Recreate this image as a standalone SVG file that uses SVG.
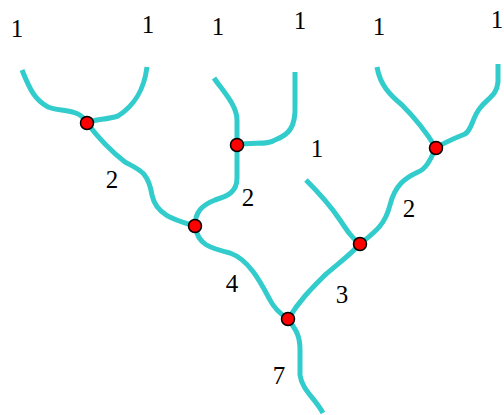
<svg xmlns="http://www.w3.org/2000/svg" width="504" height="415" viewBox="0 0 504 415">
<style>
.s{fill:none;stroke:#33cccc;stroke-width:5;stroke-linecap:butt;stroke-linejoin:round}
.n{fill:#ff0000;stroke:#000;stroke-width:1.5}
.t{font-family:"Liberation Serif","DejaVu Serif",serif;font-size:25px;fill:#000;text-anchor:middle}
</style>
<rect width="504" height="415" fill="#fff"/>
<g id="connectors">
<path class="s" d="M22,70 C30,90 35,100 48,107 C60,112 80,108 87,123"/>
<path class="s" d="M147,67 C144,90 135,105 118,116 C105,120 95,119 87,123"/>
<path class="s" d="M87,123 C100,140 112,152 125,162 C140,170 148,172 152,195 C156,215 175,220 195,226"/>
<path class="s" d="M214,78 C222,90 237,105 237,120 L237,145"/>
<path class="s" d="M295,72 L295,105 C296,128 288,135 275,140 C268,145 255,142 237,145"/>
<path class="s" d="M237,145 L237,178 C237,192 228,196 215,200 C202,205 195,212 195,226"/>
<path class="s" d="M195,226 C198,245 210,248 230,253 C250,260 262,285 270,300 C275,310 282,315 288,319"/>
<path class="s" d="M288,319 C296,330 300,335 300,350 L300,375 C302,390 315,398 323,413"/>
<path class="s" d="M288,319 C300,300 310,290 325,275 C340,262 350,255 360,244"/>
<path class="s" d="M306,180 C318,192 330,205 340,220 C348,232 352,238 360,244"/>
<path class="s" d="M360,244 C375,232 385,225 390,205 C395,185 405,178 418,172 C428,168 432,155 436,148"/>
<path class="s" d="M377,67 C380,85 390,95 402,105 C415,118 425,130 436,148"/>
<path class="s" d="M498,64 L498,82 C497,95 488,98 480,108 C472,118 472,130 465,134 C455,138 445,142 436,148"/>
</g>
<g id="nA"><circle class="n" cx="87" cy="123" r="6.5"/></g>
<g id="nB"><circle class="n" cx="237" cy="145" r="6.5"/></g>
<g id="nC"><circle class="n" cx="195" cy="226" r="6.5"/></g>
<g id="nD"><circle class="n" cx="436" cy="148" r="6.5"/></g>
<g id="nE"><circle class="n" cx="360" cy="244" r="6.5"/></g>
<g id="nF"><circle class="n" cx="288" cy="319" r="6.5"/></g>
<g id="labels">
<text class="t" x="17" y="37">1</text>
<text class="t" x="148" y="33">1</text>
<text class="t" x="218" y="35">1</text>
<text class="t" x="300" y="29">1</text>
<text class="t" x="379" y="35">1</text>
<text class="t" x="497" y="28">1</text>
<text class="t" x="317" y="157">1</text>
<text class="t" x="112" y="188">2</text>
<text class="t" x="248" y="206">2</text>
<text class="t" x="409" y="217">2</text>
<text class="t" x="232" y="292">4</text>
<text class="t" x="342" y="303">3</text>
<text class="t" x="279" y="384">7</text>
</g>
</svg>
